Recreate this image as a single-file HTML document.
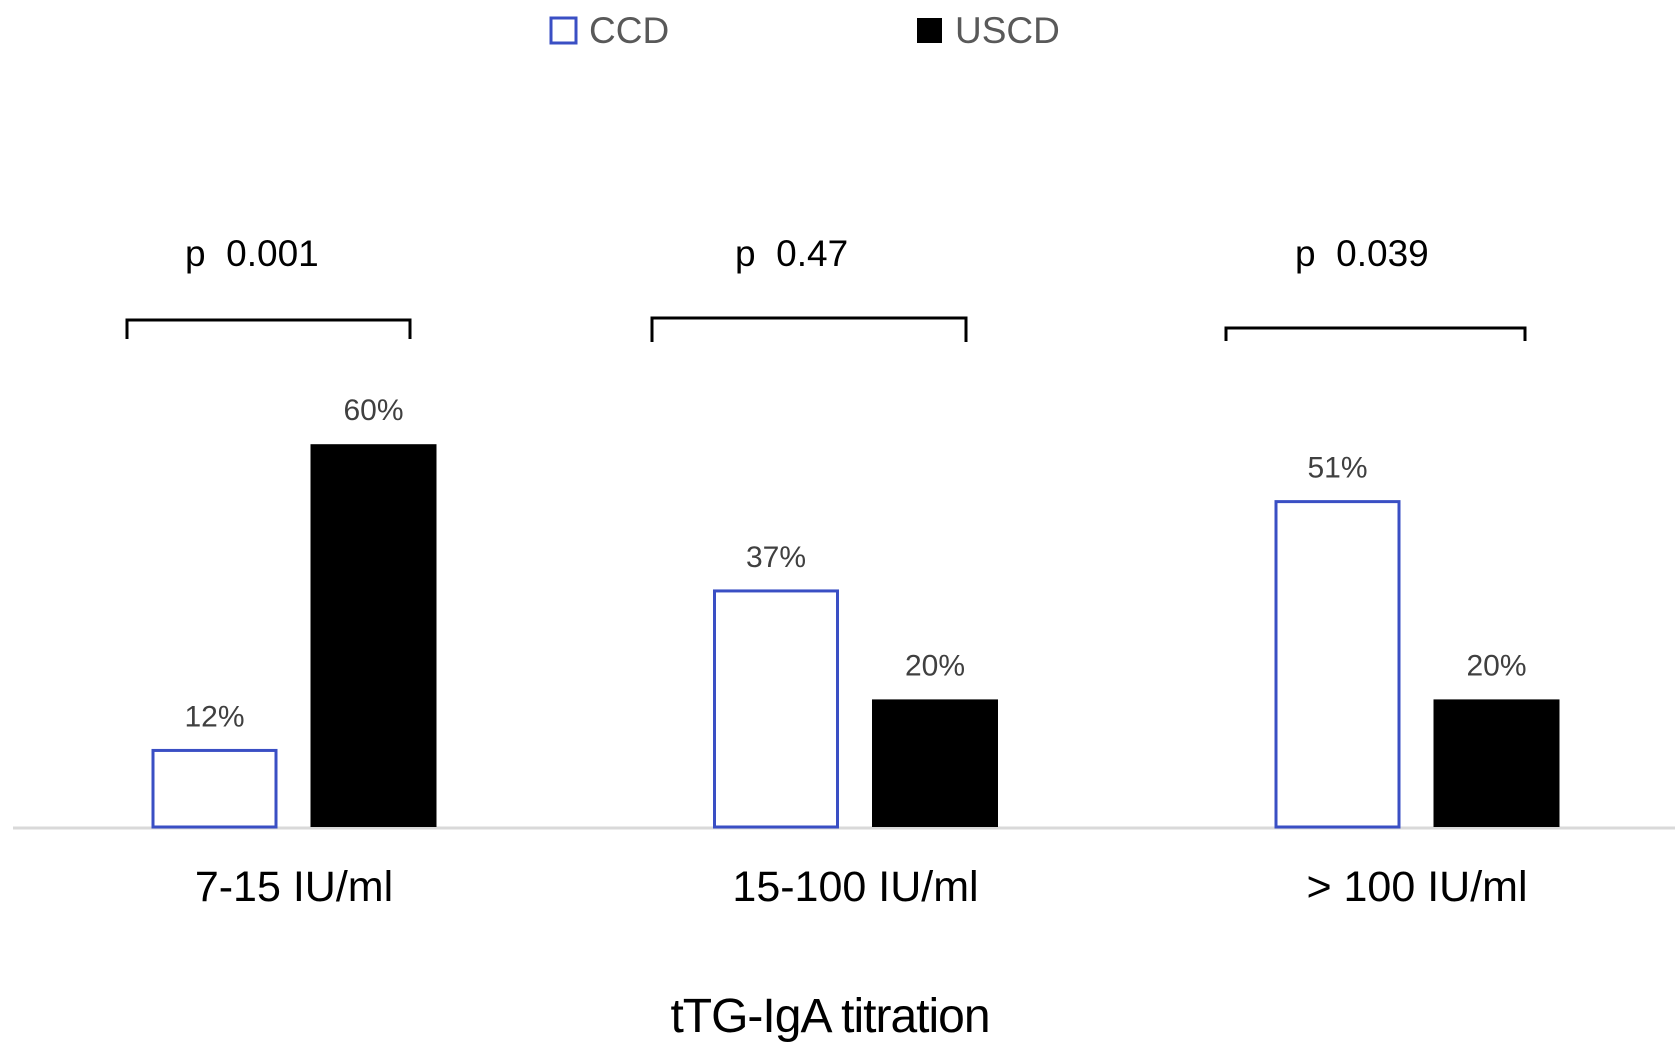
<!DOCTYPE html>
<html><head><meta charset="utf-8"><style>
html,body{margin:0;padding:0;background:#fff;}
svg{display:block;}
text{font-family:"Liberation Sans",sans-serif;}
</style></head><body>
<svg id="chart" width="1675" height="1048" viewBox="0 0 1675 1048">
<g>
<rect x="551" y="18" width="25" height="25" fill="#fff" stroke="#3a4fc4" stroke-width="3"/>
<text x="589" y="43" font-size="37" fill="#595959">CCD</text>
<rect x="917" y="18" width="25" height="25" fill="#000"/>
<text x="955" y="43" font-size="37" fill="#595959">USCD</text>
</g>
<line x1="13" y1="828" x2="1675" y2="828" stroke="#d9d9d9" stroke-width="3"/>
<g id="marks"></g>
<text x="830" y="1032" font-size="48" text-anchor="middle" fill="#000" style="letter-spacing:-1px">tTG-IgA titration</text>
</svg>
<script>
const categories = ["7-15 IU/ml", "15-100 IU/ml", "> 100 IU/ml"];
const ccdValues = [12, 37, 51];
const uscdValues = [60, 20, 20];
const pLabels = ["p  0.001", "p  0.47", "p  0.039"];

const NS = "http://www.w3.org/2000/svg";
const g = document.getElementById("marks");
const baseY = 827, pxPer = 6.38;
const yScale = v => baseY - v * pxPer;
const xCenter = i => 294 + i * 561.5;
const barW = 126, gap = 33;
function mk(tag, attrs, txt){
  const e = document.createElementNS(NS, tag);
  for (const k in attrs) e.setAttribute(k, attrs[k]);
  if (txt !== undefined) e.textContent = txt;
  g.appendChild(e); return e;
}
const brackets = [[127,410,320,339],[652,966,318,342],[1226,1525,328,341]];
const pX = [185,735,1295];
categories.forEach((c, i) => {
  const cx = xCenter(i);
  const x1 = cx - gap/2 - barW, x2 = cx + gap/2;
  const y1 = yScale(ccdValues[i]), y2 = yScale(uscdValues[i]);
  let r = mk("rect", {x:x1+1.5, y:y1, width:barW-3, height:baseY-y1, fill:"#fff", stroke:"#3a4fc4", "stroke-width":3});
  
  
  let r2 = mk("rect", {x:x2, y:y2, width:barW, height:baseY-y2, fill:"#000"});
  
  
  let t1 = mk("text", {x:x1+barW/2, y:y1-24, "font-size":30, "text-anchor":"middle", fill:"#404040"}, ccdValues[i] + "%");
  
  
  let t2 = mk("text", {x:x2+barW/2, y:y2-24, "font-size":30, "text-anchor":"middle", fill:"#404040"}, uscdValues[i] + "%");
  
  
  let ct = mk("text", {x:cx, y:901, "font-size":43, "text-anchor":"middle", fill:"#000"}, c);
  
  
  const b = brackets[i];
  let br = mk("path", {d:`M${b[0]},${b[3]} L${b[0]},${b[2]} L${b[1]},${b[2]} L${b[1]},${b[3]}`, fill:"none", stroke:"#000", "stroke-width":3});
  
  
  let pt = mk("text", {x:pX[i], y:266, "font-size":37, fill:"#000", "xml:space":"preserve"}, pLabels[i]);
  pt.style.whiteSpace = "pre";
  
  
});
</script>
</body></html>
